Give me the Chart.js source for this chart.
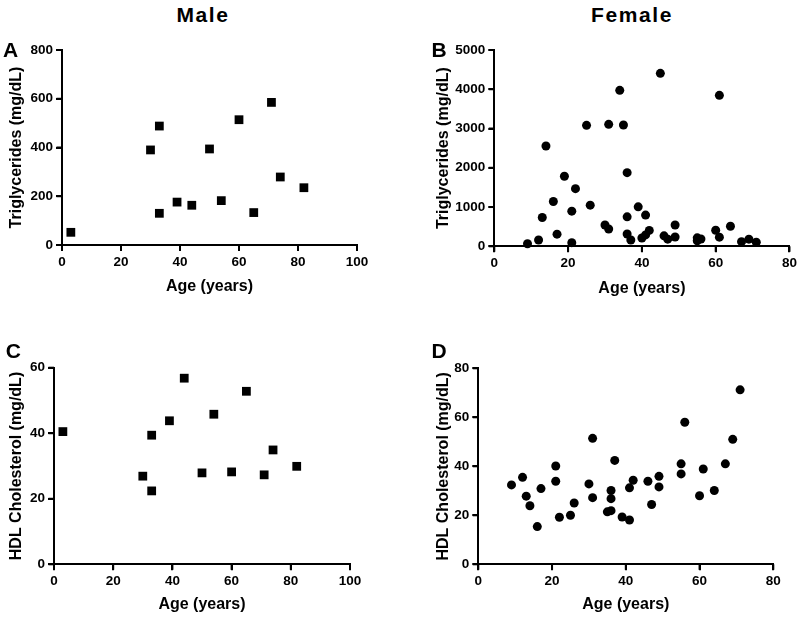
<!DOCTYPE html>
<html>
<head>
<meta charset="utf-8">
<script src="https://cdn.jsdelivr.net/npm/chart.js@4/dist/chart.umd.min.js"></script>
<style>
  html, body { margin: 0; padding: 0; background: #fff; }
  body { width: 800px; height: 619px; position: relative; overflow: hidden; font-family: "Liberation Sans", Arial, sans-serif; }
  canvas { position: absolute; }
  .lbl { position: absolute; font-weight: bold; color: #000; white-space: nowrap; line-height: 1; z-index: 5; }
</style>
</head>
<body>
<div class="lbl" style="left:153px; top:4px; width:100px; text-align:center; font-size:21px; letter-spacing:1.6px;">Male</div>
<div class="lbl" style="left:572px; top:4px; width:120px; text-align:center; font-size:21px; letter-spacing:1.6px;">Female</div>
<div class="lbl" style="left:3px; top:39px; font-size:21px;">A</div>
<div class="lbl" style="left:431.5px; top:39px; font-size:21px;">B</div>
<div class="lbl" style="left:5.7px; top:340px; font-size:21px;">C</div>
<div class="lbl" style="left:431.5px; top:340px; font-size:21px;">D</div>

<canvas id="cA"></canvas>
<canvas id="cB"></canvas>
<canvas id="cC"></canvas>
<canvas id="cD"></canvas>

<script>
// ---- Data ----
const maleAge = [3, 30, 33, 33, 39, 44, 50, 54, 60, 65, 71, 74, 82];
const maleTG = [52, 390, 488, 130, 176, 163, 394, 182, 514, 133, 585, 279, 235];
const maleHDL = [40.5, 26.9, 39.4, 22.4, 43.8, 56.8, 27.9, 45.8, 28.2, 52.8, 27.3, 34.9, 29.9];

const femaleTGAge = [9, 12, 13, 14, 16, 17, 19, 21, 21, 22, 25, 26, 30, 31, 31, 34, 35, 36, 36, 36, 37, 39, 40, 41, 41, 42, 45, 46, 47, 49, 49, 55, 55, 56, 60, 61, 61, 64, 67, 69, 71];
const femaleTG = [65, 160, 735, 2555, 1140, 310, 1783, 895, 93, 1469, 3081, 1048, 542, 441, 3107, 3973, 3090, 1876, 750, 313, 160, 1005, 210, 290, 795, 405, 4406, 267, 182, 542, 236, 215, 140, 185, 410, 233, 3845, 510, 118, 182, 102];

const femaleHDLAge = [9, 12, 13, 14, 16, 17, 21, 21, 22, 25, 26, 30, 31, 31, 35, 36, 36, 36, 37, 39, 41, 41, 42, 46, 47, 49, 49, 55, 55, 56, 60, 61, 64, 67, 69, 71];
const femaleHDL = [32.4, 35.5, 27.8, 23.9, 15.4, 30.9, 40.1, 33.9, 19.2, 20, 25, 32.8, 51.4, 27.2, 21.4, 21.9, 30.1, 26.8, 42.4, 19.3, 18.1, 31.2, 34.3, 33.9, 24.4, 35.9, 31.6, 41, 36.9, 58, 28, 38.9, 30.1, 41, 51, 71.2];

const xTitle = 'Age (years)';
const tgTitle = 'Triglycerides (mg/dL)';
const hdlTitle = 'HDL Cholesterol (mg/dL)';

// ---- Rendering ----
const FONT = '"Liberation Sans", Arial, Helvetica, sans-serif';

function pairs(xs, ys) { return xs.map((x, i) => ({ x: x, y: ys[i] })); }
function plain(v) { return String(v); }

// outward tick marks drawn at the library's own tick positions
const tickMarks = {
  id: 'tickMarks',
  afterDraw(chart) {
    const ctx = chart.ctx;
    const xs = chart.scales.x, ys = chart.scales.y;
    const area = chart.chartArea;
    ctx.save();
    ctx.strokeStyle = '#000';
    ctx.lineWidth = 2;
    ctx.lineCap = 'butt';
    xs.ticks.forEach(t => {
      const px = xs.getPixelForValue(t.value);
      ctx.beginPath(); ctx.moveTo(px, area.bottom); ctx.lineTo(px, area.bottom + 5.5); ctx.stroke();
    });
    ys.ticks.forEach(t => {
      const py = ys.getPixelForValue(t.value);
      ctx.beginPath(); ctx.moveTo(area.left, py); ctx.lineTo(area.left - 5.5, py); ctx.stroke();
    });
    ctx.restore();
  }
};

function gridOpts() {
  return { display: true, drawOnChartArea: false, drawTicks: true, tickLength: 6,
           color: '#000', lineWidth: 2, tickColor: '#000', tickWidth: 2 };
}

function makePanel(id, geo, xs, ys, xMax, yMax, yStep, yTitle, style, radius) {
  const cv = document.getElementById(id);
  cv.width = geo.cw; cv.height = geo.ch;
  cv.style.left = geo.cx + 'px'; cv.style.top = geo.cy + 'px';
  cv.style.width = geo.cw + 'px'; cv.style.height = geo.ch + 'px';
  const titleFs = 16, lh = titleFs * 1.2;
  const yW = geo.L - geo.cx;
  const xH = geo.ch - (geo.B - geo.cy);
  const tickFont = { family: FONT, size: 13.5, weight: 'bold' };
  const titleFont = { family: FONT, size: titleFs, weight: 'bold' };
  new Chart(cv, {
    type: 'scatter',
    data: { datasets: [{
      data: pairs(xs, ys),
      backgroundColor: '#000', borderColor: '#000', borderWidth: 0,
      pointStyle: style, pointRadius: radius, pointHoverRadius: radius,
      clip: false
    }] },
    plugins: [tickMarks],
    options: {
      responsive: false, animation: false,
      layout: { padding: { left: 0, top: geo.T - geo.cy, right: geo.cw - (geo.R - geo.cx), bottom: 0 } },
      plugins: { legend: { display: false }, tooltip: { enabled: false } },
      scales: {
        x: {
          type: 'linear', min: 0, max: xMax,
          ticks: { stepSize: 20, color: '#000', font: tickFont, padding: 3, maxRotation: 0, callback: plain },
          grid: gridOpts(),
          border: { display: true, color: '#000', width: 2 },
          title: { display: true, text: xTitle, color: '#000', font: titleFont,
                   padding: { top: 0, bottom: geo.ch - (geo.xTitleY - geo.cy) - lh / 2 } },
          afterFit: function (s) { s.height = xH; }
        },
        y: {
          type: 'linear', min: 0, max: yMax,
          ticks: { stepSize: yStep, color: '#000', font: tickFont, padding: 3, callback: plain },
          grid: gridOpts(),
          border: { display: true, color: '#000', width: 2 },
          title: { display: true, text: yTitle, color: '#000', font: titleFont,
                   padding: { top: geo.yTitleX - geo.cx - lh / 2, bottom: 0 } },
          afterFit: function (s) { s.width = yW; }
        }
      }
    }
  });
}

makePanel('cA', { cx: 0, cy: 30, cw: 400, ch: 280, L: 62, R: 357, T: 50, B: 245, yTitleX: 16.7, xTitleY: 286.7 },
  maleAge, maleTG, 100, 800, 200, tgTitle, 'rect', 6.2);
makePanel('cB', { cx: 400, cy: 30, cw: 400, ch: 280, L: 494.3, R: 790, T: 50, B: 246.3, yTitleX: 443.3, xTitleY: 288.3 },
  femaleTGAge, femaleTG, 80, 5000, 1000, tgTitle, 'circle', 4.5);
makePanel('cC', { cx: 0, cy: 330, cw: 400, ch: 289, L: 54, R: 350, T: 367.7, B: 564.3, yTitleX: 16.7, xTitleY: 605 },
  maleAge, maleHDL, 100, 60, 20, hdlTitle, 'rect', 6.2);
makePanel('cD', { cx: 400, cy: 330, cw: 400, ch: 289, L: 478.3, R: 773.3, T: 368.3, B: 564.3, yTitleX: 443.3, xTitleY: 605 },
  femaleHDLAge, femaleHDL, 80, 80, 20, hdlTitle, 'circle', 4.5);
</script>
</body>
</html>
